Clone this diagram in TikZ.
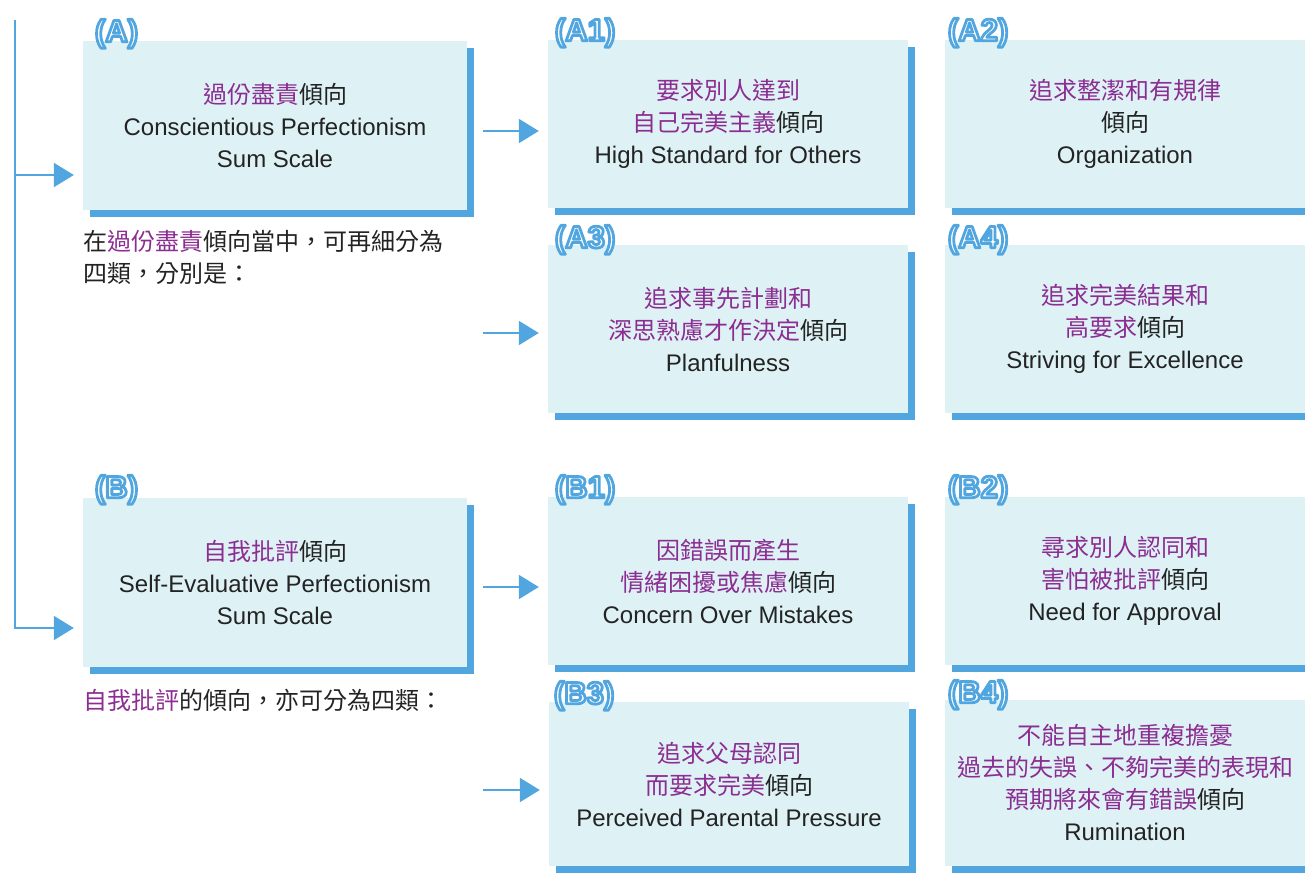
\documentclass[tikz,border=0pt]{standalone}
\usepackage{fontspec}
\setmainfont{Liberation Sans}
\newfontfamily\cjk{Noto Sans CJK TC}
\usetikzlibrary{arrows.meta,shadows}
\definecolor{boxfill}{RGB}{222,242,246}
\definecolor{shblue}{RGB}{82,166,224}
\definecolor{purp}{RGB}{140,45,145}
\definecolor{txt}{RGB}{35,35,35}
\newcommand\pu[1]{{\cjk\color{purp}#1}}
\newcommand\bk[1]{{\cjk\color{txt}#1}}
\newcommand\lbltext[1]{{\color{white}\special{pdf:literal direct 0.32 0.65 0.88 RG 2 Tr 2.8 w 1 j}#1\special{pdf:literal direct 0 Tr 0.4 w 0 j}}}
\begin{document}
\begin{tikzpicture}[x=1pt,y=-1pt,
  box/.style={fill=boxfill, draw=none, minimum width=360pt, minimum height=168pt,
    align=center, inner sep=0pt, text=txt,
    font=\fontsize{24}{32}\selectfont,
    general shadow={fill=shblue, shadow xshift=7pt, shadow yshift=-7pt}},
  widebox/.style={box, minimum width=384pt, minimum height=169pt},
  lbl/.style={anchor=west, inner sep=0pt, font=\fontsize{31}{31}\selectfont\bfseries},
  note/.style={anchor=base west, inner sep=0pt, align=left, text=txt,
    font=\fontsize{24}{32}\selectfont},
  conn/.style={draw=shblue, line width=2pt},
  arr/.style={conn, -{Triangle[width=24pt,length=20pt]}, shorten >=9pt}
]
\useasboundingbox (0,0) rectangle (1305,872);
\clip (0,0) rectangle (1305,872);

% boxes
\node[widebox] (A) at (275,125.5) {\pu{過份盡責}\bk{傾向}\\Conscientious Perfectionism\\Sum Scale};
\node[box] (A1) at (728,124) {\pu{要求別人達到}\\\pu{自己完美主義}\bk{傾向}\\High Standard for Others};
\node[box] (A2) at (1125,124) {\pu{追求整潔和有規律}\\\bk{傾向}\\Organization};
\node[box] (A3) at (728,329) {\pu{追求事先計劃和}\\\pu{深思熟慮才作決定}\bk{傾向}\\Planfulness};
\node[box] (A4) at (1125,329) {\pu{追求完美結果和}\\\pu{高要求}\bk{傾向}\\Striving for Excellence};
\node[widebox] (B) at (275,582.5) {\pu{自我批評}\bk{傾向}\\Self-Evaluative Perfectionism\\Sum Scale};
\node[box] (B1) at (728,581) {\pu{因錯誤而產生}\\\pu{情緒困擾或焦慮}\bk{傾向}\\Concern Over Mistakes};
\node[box] (B2) at (1125,581) {\pu{尋求別人認同和}\\\pu{害怕被批評}\bk{傾向}\\Need for Approval};
\node[box, minimum height=164pt] (B3) at (729,784) {\pu{追求父母認同}\\\pu{而要求完美}\bk{傾向}\\Perceived Parental Pressure};
\node[box, minimum height=166pt] (B4) at (1125,783) {\pu{不能自主地重複擔憂}\\\pu{過去的失誤、不夠完美的表現和}\\\pu{預期將來會有錯誤}\bk{傾向}\\Rumination};

% labels
\node[lbl] (lA)  at ([xshift=12pt,yshift=7pt]A.north west)  {\lbltext{(A)}};
\node[lbl] (lA1) at ([xshift=7pt,yshift=7pt]A1.north west) {\lbltext{(A1)}};
\node[lbl] (lA2) at ([xshift=3pt,yshift=7pt]A2.north west) {\lbltext{(A2)}};
\node[lbl] (lA3) at ([xshift=7pt,yshift=5pt]A3.north west) {\lbltext{(A3)}};
\node[lbl] (lA4) at ([xshift=3pt,yshift=5pt]A4.north west) {\lbltext{(A4)}};
\node[lbl] (lB)  at ([xshift=12pt,yshift=8pt]B.north west)  {\lbltext{(B)}};
\node[lbl] (lB1) at ([xshift=7pt,yshift=7pt]B1.north west) {\lbltext{(B1)}};
\node[lbl] (lB2) at ([xshift=3pt,yshift=7pt]B2.north west) {\lbltext{(B2)}};
\node[lbl] (lB3) at ([xshift=5pt,yshift=6pt]B3.north west) {\lbltext{(B3)}};
\node[lbl] (lB4) at ([xshift=3pt,yshift=5pt]B4.north west) {\lbltext{(B4)}};

% notes
\node[note] (nA) at ([yshift=-72pt]A.south west) {\bk{在}\pu{過份盡責}\bk{傾向當中，可再細分為}\\\bk{四類，分別是：}};
\node[note] (nB) at ([yshift=-42pt]B.south west) {\pu{自我批評}\bk{的傾向，亦可分為四類：}};

% connectors
\coordinate (top) at (15,20);
\coordinate (jA) at (15,175);
\coordinate (jB) at (15,628);
\draw[conn] (top) -- (jA);
\draw[arr] (jA) -- (A.west |- jA);
\draw[arr] (jA) |- (B.west |- jB);

\draw[arr] ([xshift=-65pt,yshift=-7pt]A1.west) -- ([yshift=-7pt]A1.west);
\draw[arr] ([xshift=-65pt,yshift=-4pt]A3.west) -- ([yshift=-4pt]A3.west);
\draw[arr] ([xshift=-65pt,yshift=-6pt]B1.west) -- ([yshift=-6pt]B1.west);
\draw[arr] ([xshift=-66pt,yshift=-6pt]B3.west) -- ([yshift=-6pt]B3.west);
\end{tikzpicture}
\end{document}
